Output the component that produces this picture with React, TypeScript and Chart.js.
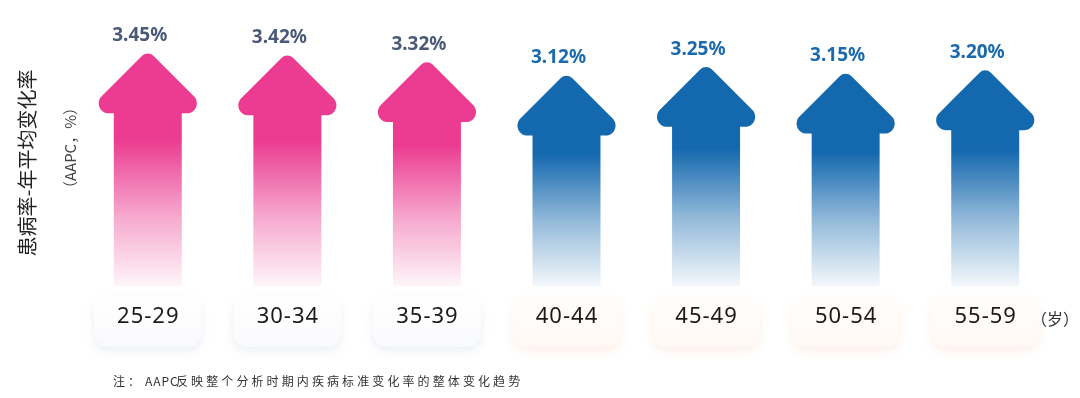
import React, { useEffect, useRef } from "react";
import { Chart, registerables } from "chart.js";

Chart.register(...registerables);

const categories = ["25-29", "30-34", "35-39", "40-44", "45-49", "50-54", "55-59"];
const aapcValues = [3.45, 3.42, 3.32, 3.12, 3.25, 3.15, 3.2];
const valueLabels = ["3.45%", "3.42%", "3.32%", "3.12%", "3.25%", "3.15%", "3.20%"];
const yTitle = "患病率-年平均变化率";
const ySubTitle = "（AAPC，%）";
const xUnit = "（岁）";
const notePrefix = "注：";
const noteAbbr = "AAPC";
const noteBody = "反映整个分析时期内疾病标准变化率的整体变化趋势";
const pinkCount = 3;

const PINK = [235, 60, 145];
const BLUE = [20, 104, 174];
const CJK = '"Noto Sans CJK SC", "Noto Sans", sans-serif';
const LATIN = '"Noto Sans", "Open Sans", "Noto Sans CJK SC", sans-serif';

function rgba(c: number[], a: number) {
  return `rgba(${c[0]},${c[1]},${c[2]},${a})`;
}

function roundedPoly(ctx: CanvasRenderingContext2D, pts: { x: number; y: number }[], radii: number[]) {
  const n = pts.length;
  const last = pts[n - 1];
  ctx.beginPath();
  ctx.moveTo((last.x + pts[0].x) / 2, (last.y + pts[0].y) / 2);
  for (let i = 0; i < n; i++) {
    const p = pts[i];
    const q = pts[(i + 1) % n];
    if (radii[i] > 0) ctx.arcTo(p.x, p.y, q.x, q.y, radii[i]);
    else ctx.lineTo(p.x, p.y);
  }
  ctx.closePath();
}

function roundRect(ctx: CanvasRenderingContext2D, x: number, y: number, w: number, h: number, r: number) {
  ctx.beginPath();
  ctx.moveTo(x + r, y);
  ctx.arcTo(x + w, y, x + w, y + h, r);
  ctx.arcTo(x + w, y + h, x, y + h, r);
  ctx.arcTo(x, y + h, x, y, r);
  ctx.arcTo(x, y, x + w, y, r);
  ctx.closePath();
}

const arrowPlugin = {
  id: "arrowPlugin",
  afterDatasetsDraw(chart: any) {
    const ctx: CanvasRenderingContext2D = chart.ctx;
    const meta = chart.getDatasetMeta(0);
    const area = chart.chartArea;
    meta.data.forEach((bar: any, i: number) => {
      const { x, y, base, width } = bar.getProps(["x", "y", "base", "width"], true);
      const isPink = i < pinkCount;
      const col = isPink ? PINK : BLUE;
      const sw = width;
      const hw = sw * 0.93;
      const tipV = y - 3;
      const hb = tipV + hw * 1.0;
      const pts = [
        { x: x, y: tipV },
        { x: x + hw, y: hb },
        { x: x + sw / 2, y: hb },
        { x: x + sw / 2, y: base },
        { x: x - sw / 2, y: base },
        { x: x - sw / 2, y: hb },
        { x: x - hw, y: hb },
      ];
      const grad = ctx.createLinearGradient(0, tipV, 0, base);
      grad.addColorStop(0, rgba(col, 1));
      grad.addColorStop(0.38, rgba(col, 1));
      grad.addColorStop(0.7, rgba(col, 0.45));
      grad.addColorStop(1, rgba(col, 0.05));
      ctx.save();
      roundedPoly(ctx, pts, [8, 10, 0, 0, 0, 0, 10]);
      ctx.fillStyle = grad;
      ctx.fill();
      ctx.restore();

      // value label
      ctx.save();
      ctx.font = `bold 19px ${LATIN}`;
      ctx.textAlign = "center";
      ctx.textBaseline = "alphabetic";
      ctx.fillStyle = isPink ? "#4a5a77" : "#1b6aae";
      ctx.fillText(valueLabels[i], x - 8, tipV - 9);
      ctx.restore();

      // category box
      const bw = 108;
      const bh = 50;
      const by = area.bottom + 11;
      ctx.save();
      ctx.shadowColor = isPink ? "rgba(150,165,200,0.18)" : "rgba(250,185,145,0.22)";
      ctx.shadowBlur = 8;
      ctx.shadowOffsetY = 4;
      const bg = ctx.createLinearGradient(0, by, 0, by + bh);
      if (isPink) {
        bg.addColorStop(0, "#ffffff");
        bg.addColorStop(1, "#f9fafc");
      } else {
        bg.addColorStop(0, "#fffdfb");
        bg.addColorStop(1, "#fff9f6");
      }
      roundRect(ctx, x - bw / 2, by, bw, bh, 14);
      ctx.fillStyle = bg;
      ctx.fill();
      ctx.restore();

      ctx.save();
      ctx.font = `22px ${LATIN}`;
      (ctx as any).letterSpacing = "1px";
      ctx.textAlign = "center";
      ctx.textBaseline = "middle";
      ctx.fillStyle = "#1a1a1a";
      ctx.fillText(categories[i], x + 0.5, by + 20);
      ctx.restore();
    });

    // unit
    ctx.save();
    ctx.font = `16px ${CJK}`;
    ctx.textAlign = "left";
    ctx.textBaseline = "middle";
    ctx.fillStyle = "#333";
    ctx.fillText(xUnit, 1031, area.bottom + 33);
    ctx.restore();

    // y titles
    ctx.save();
    ctx.translate(27, 163);
    ctx.rotate(-Math.PI / 2);
    ctx.font = `20px ${CJK}`;
    ctx.textAlign = "center";
    ctx.textBaseline = "middle";
    ctx.fillStyle = "#222";
    ctx.fillText(yTitle, 0, 0);
    ctx.restore();

    ctx.save();
    ctx.translate(70, 148);
    ctx.rotate(-Math.PI / 2);
    ctx.font = `15px ${CJK}`;
    ctx.textAlign = "center";
    ctx.textBaseline = "middle";
    ctx.fillStyle = "#444";
    ctx.fillText(ySubTitle, 0, 0);
    ctx.restore();

    // note
    ctx.save();
    ctx.font = `12px ${CJK}`;
    ctx.textAlign = "left";
    ctx.textBaseline = "middle";
    ctx.fillStyle = "#333";
    (ctx as any).letterSpacing = "3px";
    ctx.fillText(notePrefix, 113, 381);
    (ctx as any).letterSpacing = "1px";
    ctx.fillText(noteAbbr, 145, 381);
    (ctx as any).letterSpacing = "3.1px";
    ctx.fillText(noteBody, 176, 381);
    ctx.restore();
  },
};

export default function App() {
  const ref = useRef<HTMLCanvasElement | null>(null);
  useEffect(() => {
    if (!ref.current) return;
    const chart = new Chart(ref.current, {
      type: "bar",
      data: {
        labels: categories,
        datasets: [
          {
            data: aapcValues,
            backgroundColor: "rgba(0,0,0,0)",
            borderWidth: 0,
            barPercentage: 0.487,
            categoryPercentage: 1,
          },
        ],
      },
      options: {
        responsive: false,
        animation: false,
        devicePixelRatio: 1,
        layout: { padding: { left: 78, right: 25, top: 16, bottom: 112 } },
        scales: {
          x: { display: false },
          y: { display: false, min: 0, max: 4 },
        },
        plugins: { legend: { display: false }, tooltip: { enabled: false } },
      },
      plugins: [arrowPlugin],
    });
    return () => chart.destroy();
  }, []);
  return (
    <div style={{ position: "fixed", left: 0, top: 0, width: 1080, height: 398, background: "#fff" }}>
      <canvas ref={ref} width={1080} height={398} style={{ width: 1080, height: 398, display: "block" }} />
    </div>
  );
}
